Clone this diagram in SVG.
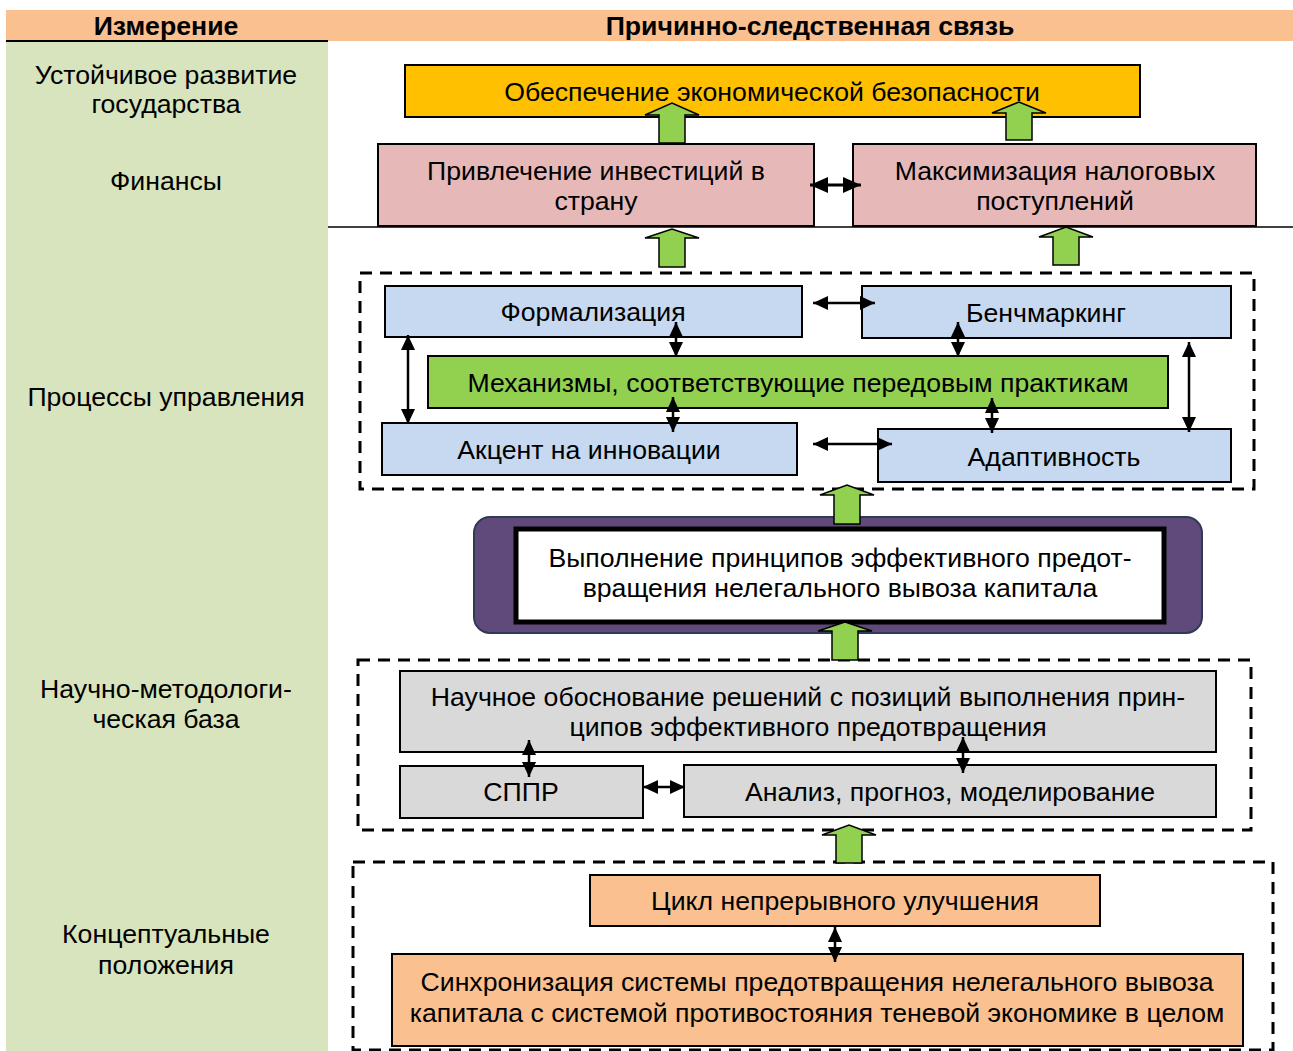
<svg xmlns="http://www.w3.org/2000/svg" width="1293" height="1051" viewBox="0 0 1293 1051">
<style>
text{font-family:"Liberation Sans",Arial,sans-serif;font-size:26.67px;fill:#000;text-anchor:middle}
.h{font-weight:bold}
.box{stroke:#000;stroke-width:2}
.dash{fill:none;stroke:#000;stroke-width:3;stroke-dasharray:12 8}
.ga{fill:#92D050;stroke:#000;stroke-width:1.5;stroke-linejoin:miter}
.dbl{stroke:#000;stroke-width:2.5;fill:none;marker-start:url(#ah);marker-end:url(#ah)}
.dblL{stroke:#000;stroke-width:3;fill:none;marker-start:url(#ahL);marker-end:url(#ahL)}
</style>
<defs>
<marker id="ah" markerUnits="userSpaceOnUse" markerWidth="15" markerHeight="14" refX="15" refY="7" orient="auto-start-reverse">
<path d="M0,0 L15,7 L0,14 Z" fill="#000"/>
</marker>
<marker id="ahL" markerUnits="userSpaceOnUse" markerWidth="18" markerHeight="16" refX="18" refY="8" orient="auto-start-reverse">
<path d="M0,0 L18,8 L0,16 Z" fill="#000"/>
</marker>
</defs>
<rect width="1293" height="1051" fill="#fff"/>
<g id="header">
<rect x="6" y="10" width="1287" height="31" fill="#FAC090"/>
<line x1="6" y1="41" x2="328" y2="41" stroke="#000" stroke-width="2"/>
<text class="h" x="166" y="35">Измерение</text>
<text class="h" x="810" y="35">Причинно-следственная связь</text>
</g>
<g id="dimensions">
<rect x="6" y="42" width="322" height="1009" fill="#D7E4BD"/>
<text x="166" y="84">Устойчивое развитие</text>
<text x="166" y="113">государства</text>
<text x="166" y="190">Финансы</text>
<text x="166" y="406">Процессы управления</text>
<text x="166" y="698">Научно-методологи-</text>
<text x="166" y="728">ческая база</text>
<text x="166" y="943">Концептуальные</text>
<text x="166" y="974">положения</text>
</g>
<line x1="328" y1="227" x2="1293" y2="227" stroke="#000" stroke-width="1.5"/>
<g id="group-processes"><rect class="dash" x="360" y="273" width="894" height="216"/></g>
<g id="group-methods"><rect class="dash" x="358" y="660" width="893" height="170"/></g>
<g id="group-concepts"><rect class="dash" x="353" y="862" width="920" height="188"/></g>
<g id="n-security"><rect class="box" x="405" y="65" width="735" height="52" fill="#FFC000"/><text x="772" y="101">Обеспечение экономической безопасности</text></g>
<g id="n-invest"><rect class="box" x="378" y="144" width="436" height="82" fill="#E6B9B8"/><text x="596" y="180">Привлечение инвестиций в</text><text x="596" y="210">страну</text></g>
<g id="n-tax"><rect class="box" x="853" y="144" width="403" height="82" fill="#E6B9B8"/><text x="1055" y="180">Максимизация налоговых</text><text x="1055" y="210">поступлений</text></g>
<g id="n-formal"><rect class="box" x="385" y="286" width="417" height="51" fill="#C6D9F1"/><text x="593" y="321">Формализация</text></g>
<g id="n-bench"><rect class="box" x="862" y="286" width="369" height="52" fill="#C6D9F1"/><text x="1046" y="322">Бенчмаркинг</text></g>
<g id="n-mech"><rect class="box" x="428" y="356" width="740" height="52" fill="#92D050"/><text x="798" y="392">Механизмы, соответствующие передовым практикам</text></g>
<g id="n-innov"><rect class="box" x="382" y="423" width="415" height="52" fill="#C6D9F1"/><text x="589" y="459">Акцент на инновации</text></g>
<g id="n-adapt"><rect class="box" x="878" y="429" width="353" height="53" fill="#C6D9F1"/><text x="1054" y="466">Адаптивность</text></g>
<g id="n-principles"><rect x="474" y="517" width="728" height="116" rx="16" fill="#604A7B" stroke="#2F3A55" stroke-width="2"/><rect x="516" y="529" width="648" height="93" fill="#fff" stroke="#000" stroke-width="5"/><text x="840" y="567">Выполнение принципов эффективного предот-</text><text x="840" y="597">вращения нелегального вывоза капитала</text></g>
<g id="n-science"><rect class="box" x="400" y="671" width="816" height="81" fill="#D9D9D9"/><text x="808" y="706">Научное обоснование решений с позиций выполнения прин-</text><text x="808" y="736">ципов эффективного предотвращения</text></g>
<g id="n-dss"><rect class="box" x="400" y="766" width="243" height="52" fill="#D9D9D9"/><text x="521" y="801">СППР</text></g>
<g id="n-analysis"><rect class="box" x="684" y="765" width="532" height="52" fill="#D9D9D9"/><text x="950" y="801">Анализ, прогноз, моделирование</text></g>
<g id="n-cycle"><rect class="box" x="590" y="875" width="510" height="51" fill="#FAC090"/><text x="845" y="910">Цикл непрерывного улучшения</text></g>
<g id="n-sync"><rect class="box" x="392" y="954" width="851" height="92" fill="#FAC090"/><text x="817" y="991">Синхронизация системы предотвращения нелегального вывоза</text><text x="817" y="1022">капитала с системой противостояния теневой экономике в целом</text></g>
<g id="connectors">
<path class="ga" d="M659,143 L659,115 L645,115 L672,103 L699,115 L685,115 L685,143 Z"/>
<path class="ga" d="M1006,140 L1006,113 L992,113 L1019,102 L1046,113 L1032,113 L1032,140 Z"/>
<path class="ga" d="M659,267 L659,238 L645,238 L672,229 L699,238 L685,238 L685,267 Z"/>
<path class="ga" d="M1053,265 L1053,237 L1039,237 L1066,227 L1093,237 L1079,237 L1079,265 Z"/>
<path class="ga" d="M834,524 L834,495 L820,495 L847,485 L874,495 L860,495 L860,524 Z"/>
<path class="ga" d="M832,660 L832,631 L818,631 L845,622 L872,631 L858,631 L858,660 Z"/>
<path class="ga" d="M836,863 L836,835 L822,835 L849,825 L876,835 L862,835 L862,863 Z"/>
<line class="dblL" x1="810" y1="185" x2="861" y2="185"/>
<line class="dbl" x1="813" y1="303" x2="875" y2="303"/>
<line class="dbl" x1="408" y1="335" x2="408" y2="424"/>
<line class="dbl" x1="676" y1="322" x2="676" y2="357"/>
<line class="dbl" x1="673" y1="397" x2="673" y2="432"/>
<line class="dbl" x1="958" y1="322" x2="958" y2="357"/>
<line class="dbl" x1="1189" y1="342" x2="1189" y2="432"/>
<line class="dbl" x1="813" y1="444" x2="892" y2="444"/>
<line class="dbl" x1="992" y1="398" x2="992" y2="433"/>
<line class="dbl" x1="529" y1="740" x2="529" y2="777"/>
<line class="dbl" x1="963" y1="737" x2="963" y2="773"/>
<line class="dbl" x1="643" y1="787" x2="685" y2="787"/>
<line class="dbl" x1="835" y1="927" x2="835" y2="962"/>
</g>
</svg>
